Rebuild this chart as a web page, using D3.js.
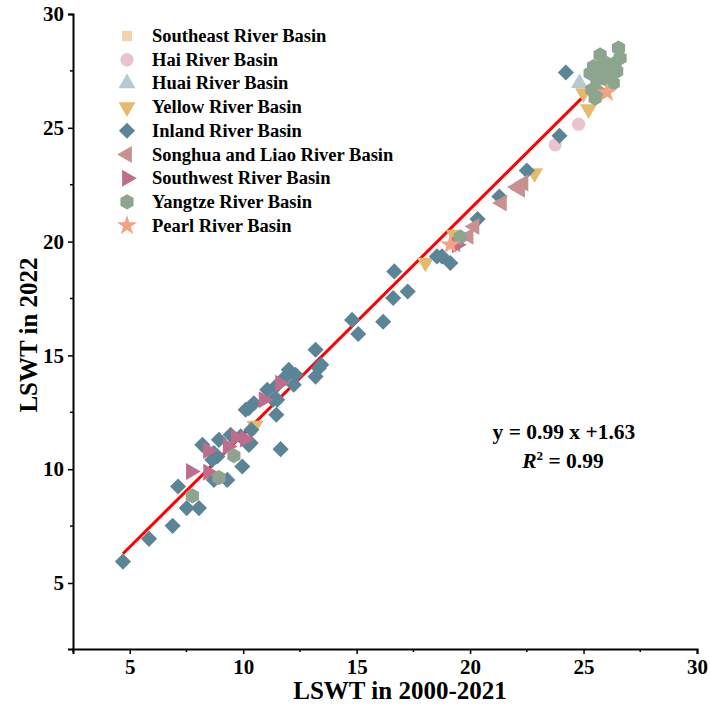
<!DOCTYPE html>
<html>
<head>
<meta charset="utf-8">
<script src="https://cdn.jsdelivr.net/npm/d3@7"></script>
<style>
  html, body { margin: 0; padding: 0; background: #fff; }
  svg { display: block; }
  text { font-family: "Liberation Serif", "Times New Roman", serif; font-weight: bold; }
</style>
</head>
<body>
<svg id="chart" width="710" height="715"></svg>
<script>
// ---------------- DATA ----------------
const seriesNames = [
  "Southeast River Basin", "Hai River Basin", "Huai River Basin", "Yellow River Basin",
  "Inland River Basin", "Songhua and Liao River Basin", "Southwest River Basin",
  "Yangtze River Basin", "Pearl River Basin"
];
const seriesColors = ["#f1d3ad", "#e9c4cf", "#b5c8d3", "#e4bb6e", "#5b8597", "#c8918f", "#c06c8c", "#8da58e", "#f4a283"];

const southeastPts = [[25.6, 26.9]];
const haiPts = [[23.75, 24.25], [24.78, 25.16]];
const huaiPts = [[24.82, 26.96]];
const yellowPts = [[10.52, 11.91], [18.03, 19.08], [19.3, 20.3], [22.84, 23.01], [25.22, 25.82], [25.0, 26.52]];
const inlandPts = [
  [4.70, 5.94], [5.85, 6.94], [6.89, 7.51], [7.13, 9.24], [7.51, 8.29], [8.05, 8.29],
  [8.20, 11.07], [8.71, 10.71], [8.64, 10.41], [8.86, 10.56], [8.71, 9.53], [9.30, 9.53],
  [9.96, 10.12], [8.93, 11.29], [9.45, 11.51], [9.89, 11.44], [10.25, 11.07], [10.33, 11.15],
  [10.36, 11.73], [11.65, 10.88], [11.46, 12.39], [10.11, 12.61], [10.25, 12.68], [10.47, 12.90],
  [11.32, 13.05], [11.5, 13.05], [11.06, 13.49], [11.43, 13.63], [12.01, 14.37], [12.31, 14.15],
  [12.23, 13.71], [11.87, 14.07], [13.19, 15.25], [13.33, 14.44], [13.19, 14.07], [13.44, 14.59],
  [14.80, 16.56], [15.07, 15.94], [16.17, 16.48], [16.61, 17.52], [16.66, 18.69], [17.25, 17.81],
  [18.54, 19.35], [18.76, 19.35], [19.13, 19.06], [20.33, 20.99], [21.29, 21.98], [22.50, 23.12],
  [23.94, 24.65], [24.22, 27.43]
];
const songhuaPts = [[19.35, 19.9], [19.93, 20.23], [20.19, 20.66], [21.40, 21.70], [22.06, 22.40], [22.35, 22.57], [22.2, 22.3]];
const southwestPts = [[7.70, 9.90], [8.46, 9.87], [8.45, 10.82], [9.32, 11.0], [9.68, 11.40], [10.08, 11.33], [10.90, 13.05], [11.63, 13.78], [19.42, 19.86]];
const yangtzePts = [
  [7.76, 8.83], [8.93, 9.63], [9.59, 10.59], [19.57, 20.20],
  [25.73, 28.2], [25.44, 27.69], [25.81, 27.55], [26.17, 27.69], [25.59, 27.11], [26.03, 27.11],
  [25.37, 26.67], [25.73, 26.52], [25.51, 26.30], [26.54, 28.5], [26.61, 28.06], [26.39, 27.84],
  [26.46, 27.48], [25.29, 27.4], [26.31, 26.96], [25.9, 27.9], [26.1, 27.3]
];
const pearlPts = [[19.13, 19.86], [26.03, 26.55]];

const allSeries = [southeastPts, haiPts, huaiPts, yellowPts, inlandPts, songhuaPts, southwestPts, yangtzePts, pearlPts];

const xTicks = [5, 10, 15, 20, 25, 30];
const yTicks = [5, 10, 15, 20, 25, 30];
const xMinor = [2.5, 7.5, 12.5, 17.5, 22.5, 27.5];
const yMinor = [7.5, 12.5, 17.5, 22.5, 27.5];
const slope = 0.99, intercept = 1.63;
const fitRange = [4.7, 26.6];

// ---------------- CHART ----------------
const svg = d3.select("#chart");
const x = d3.scaleLinear().domain([2.5, 30]).range([73, 697]);
const y = d3.scaleLinear().domain([2.1, 30]).range([649, 14]);

// hexagon symbol
const symbolHexagon = {
  draw(ctx, size) {
    const r = Math.sqrt(size * 2 / (3 * Math.sqrt(3)));
    for (let i = 0; i < 6; i++) {
      const a = Math.PI / 2 + i * Math.PI / 3;
      const px = r * Math.cos(a), py = r * Math.sin(a);
      if (i === 0) ctx.moveTo(px, py); else ctx.lineTo(px, py);
    }
    ctx.closePath();
  }
};
const shapes = [
  { type: d3.symbolSquare, size: 105, rot: 0 },
  { type: d3.symbolCircle, size: 140, rot: 0 },
  { type: d3.symbolTriangle, size: 125, rot: 0 },
  { type: d3.symbolTriangle, size: 125, rot: 180 },
  { type: d3.symbolSquare, size: 130, rot: 45 },
  { type: d3.symbolTriangle, size: 125, rot: -90 },
  { type: d3.symbolTriangle, size: 125, rot: 90 },
  { type: symbolHexagon, size: 150, rot: 0 },
  { type: d3.symbolStar, size: 125, rot: 0 }
];

// axes
const xAxis = d3.axisBottom(x).tickValues(xTicks).tickSize(5).tickPadding(5).tickFormat(d3.format("d"));
const yAxis = d3.axisLeft(y).tickValues(yTicks).tickSize(5).tickPadding(4).tickFormat(d3.format("d"));
const gx = svg.append("g").attr("transform", `translate(0,${y.range()[0]})`).call(xAxis);
const gy = svg.append("g").attr("transform", `translate(${x.range()[0]},0)`).call(yAxis);
[gx, gy].forEach(g => {
  g.select(".domain").attr("stroke", "#000").attr("stroke-width", 2);
  g.selectAll(".tick line").attr("stroke", "#000").attr("stroke-width", 1.5);
  g.selectAll(".tick text").attr("fill", "#000").style("font-size", "21px")
    .style("font-family", "'Liberation Serif', serif").style("font-weight", "bold");
});
// minor ticks
svg.append("g").selectAll("line").data(xMinor).join("line")
  .attr("x1", d => x(d)).attr("x2", d => x(d))
  .attr("y1", y.range()[0]).attr("y2", y.range()[0] + 3)
  .attr("stroke", "#000").attr("stroke-width", 1.5);
svg.append("g").selectAll("line").data(yMinor).join("line")
  .attr("y1", d => y(d)).attr("y2", d => y(d))
  .attr("x1", x.range()[0]).attr("x2", x.range()[0] - 3)
  .attr("stroke", "#000").attr("stroke-width", 1.5);

// axis titles
svg.append("text").attr("x", 400).attr("y", 699).attr("text-anchor", "middle")
  .style("font-size", "25px").text("LSWT in 2000-2021");
svg.append("text").attr("transform", "translate(37,335) rotate(-90)").attr("text-anchor", "middle")
  .style("font-size", "25px").text("LSWT in 2022");

// regression line
svg.append("line")
  .attr("x1", x(fitRange[0])).attr("y1", y(slope * fitRange[0] + intercept))
  .attr("x2", x(fitRange[1])).attr("y2", y(slope * fitRange[1] + intercept))
  .attr("stroke", "#ff0000").attr("stroke-width", 3);

// points
allSeries.forEach((pts, i) => {
  const sh = shapes[i];
  const sym = d3.symbol().type(sh.type).size(sh.size);
  svg.append("g").selectAll("path").data(pts).join("path")
    .attr("d", sym)
    .attr("transform", d => `translate(${x(d[0])},${y(d[1])}) rotate(${sh.rot})`)
    .attr("fill", seriesColors[i]);
});

// legend
const lg = svg.append("g");
seriesNames.forEach((name, i) => {
  const yy = 36 + i * 23.7;
  const sh = shapes[i];
  lg.append("path").attr("d", d3.symbol().type(sh.type).size(sh.size)())
    .attr("transform", `translate(127,${yy}) rotate(${sh.rot})`)
    .attr("fill", seriesColors[i]);
  lg.append("text").attr("x", 152).attr("y", yy + 6).style("font-size", "18.5px").text(name);
});

// equation
svg.append("text").attr("x", 564).attr("y", 439).attr("text-anchor", "middle")
  .style("font-size", "21.5px").text("y = 0.99 x +1.63");
const r2 = svg.append("text").attr("x", 563).attr("y", 468).attr("text-anchor", "middle")
  .style("font-size", "21.5px");
r2.append("tspan").style("font-style", "italic").text("R");
r2.append("tspan").attr("dy", -8).style("font-size", "13px").text("2");
r2.append("tspan").attr("dy", 8).text(" = 0.99");
</script>
</body>
</html>
